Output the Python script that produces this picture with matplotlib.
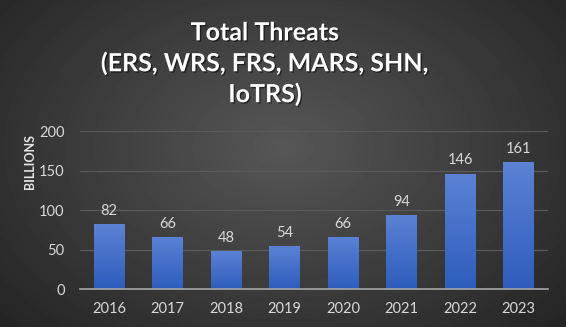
import matplotlib.pyplot as plt
import matplotlib.patheffects as pe
import numpy as np
from matplotlib.colors import LinearSegmentedColormap

years = ["2016", "2017", "2018", "2019", "2020", "2021", "2022", "2023"]
threats = [82, 66, 48, 54, 66, 94, 146, 161]
title = "Total Threats\n(ERS, WRS, FRS, MARS, SHN,\nIoTRS)"

plt.rcParams['font.family'] = ['Lato', 'DejaVu Sans']

fig = plt.figure(figsize=(5.66, 3.27), dpi=100)

# fondo con degradado radial
bg = fig.add_axes([0, 0, 1, 1])
yy, xx = np.mgrid[0:1:327j, 0:1:566j]
r = np.sqrt(((xx - 0.5) / 0.75) ** 2 + ((yy - 0.45) / 0.9) ** 2)
bg.imshow(0.34 - 0.22 * r, cmap='gray', vmin=0, vmax=1, aspect='auto',
          extent=[0, 1, 0, 1], origin='upper')
bg.set_axis_off()

ax = fig.add_axes([0.141, 0.116, 0.827, 0.483])
ax.set_facecolor('none')
x = np.arange(len(years))
bars = ax.bar(x, threats, width=0.52, color='#4472c4', zorder=2)

# degradado en las barras
grad = np.linspace(0, 1, 100).reshape(-1, 1)
cmap = LinearSegmentedColormap.from_list('b', ['#5b82d4', '#2f5dbd'])
for b in bars:
    x0, y0 = b.get_x(), b.get_y()
    im = ax.imshow(grad, cmap=cmap, aspect='auto', zorder=3,
                   extent=[x0, x0 + b.get_width(), y0, y0 + b.get_height()],
                   origin='upper')
    im.set_clip_path(b)

for xi, v in zip(x, threats):
    ax.text(xi, v + 8, str(v), ha='center', va='bottom', color='#d9d9d9', fontsize=10.5)

ax.set_xlim(-0.5, len(years) - 0.5)
ax.set_ylim(0, 200)
ax.set_yticks([0, 50, 100, 150, 200])
ax.set_xticks(x)
ax.set_xticklabels(years)
ax.tick_params(colors='#d9d9d9', labelsize=10.5, length=0, pad=9)
ax.tick_params(axis='y', pad=11)
ax.grid(axis='y', color='#5a5a5a', linewidth=0.9, zorder=0)
for s in ['top', 'right', 'left']:
    ax.spines[s].set_visible(False)
ax.spines['bottom'].set_color('#a6a6a6')
ax.spines['bottom'].set_linewidth(1.2)
ax.spines['bottom'].set_zorder(4)

fig.text(0.053, 0.505, "BILLIONS", rotation=90, ha='center', va='center',
         color='#e6e6e6', fontsize=9, fontweight='bold')
fig.text(0.468, 0.805, title, ha='center', va='center', color='white',
         fontsize=18, fontweight='bold', linespacing=1.38,
         path_effects=[pe.withSimplePatchShadow(offset=(1, -1), shadow_rgbFace='black', alpha=0.5)])

fig.savefig('out.png', dpi=100)
